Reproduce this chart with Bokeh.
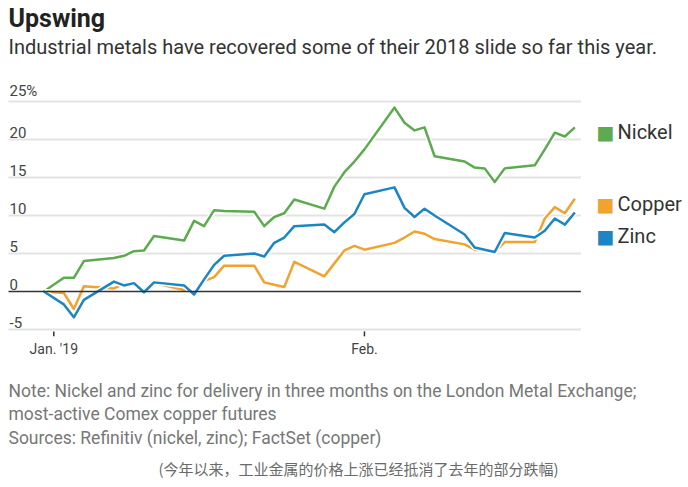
import pandas as pd
from bokeh.plotting import figure
from bokeh.models import Range1d, Label, ColumnDataSource
from bokeh.embed import file_html
from bokeh.resources import INLINE

# ---------------- data ----------------
dates = ["2018-12-31", "2019-01-02", "2019-01-03", "2019-01-04", "2019-01-07", "2019-01-08",
         "2019-01-09", "2019-01-10", "2019-01-11", "2019-01-14", "2019-01-15", "2019-01-16",
         "2019-01-17", "2019-01-18", "2019-01-21", "2019-01-22", "2019-01-23", "2019-01-24",
         "2019-01-25", "2019-01-28", "2019-01-29", "2019-01-30", "2019-01-31", "2019-02-01",
         "2019-02-04", "2019-02-05", "2019-02-06", "2019-02-07", "2019-02-08", "2019-02-11",
         "2019-02-12", "2019-02-13", "2019-02-14", "2019-02-15", "2019-02-18", "2019-02-19",
         "2019-02-20", "2019-02-21", "2019-02-22"]
nickel = [0.0, 1.8, 1.8, 4.0, 4.4, 4.7, 5.3, 5.4, 7.3, 6.7, 9.3, 8.6,
          10.7, 10.6, 10.5, 8.6, 9.8, 10.3, 12.1, 10.9, 13.8, 15.7, 17.1, 18.7,
          24.2, 22.2, 21.2, 21.6, 17.8, 17.1, 16.3, 16.2, 14.4, 16.2, 16.6, 18.7,
          20.9, 20.4, 21.6]
copper = [0.0, -0.2, -2.3, 0.7, 0.4, 1.0, 1.0, 0.1, 1.1, 0.2, 0.0, 1.4,
          1.9, 3.4, 3.4, 1.2, 0.9, 0.6, 3.9, 2.0, 3.7, 5.4, 6.0, 5.5,
          6.4, 7.1, 7.9, 7.6, 6.9, 6.2, 5.5, 5.4, 5.2, 6.5, 6.5, 9.6,
          11.1, 10.3, 12.2]
zinc = [0.0, -1.7, -3.4, -1.1, 1.3, 0.8, 1.1, -0.1, 1.2, 0.8, -0.4, 1.6,
        3.5, 4.7, 5.0, 4.6, 6.4, 7.1, 8.6, 8.8, 7.8, 9.1, 10.2, 12.8,
        13.7, 11.0, 9.8, 10.9, 10.0, 7.5, 5.8, 5.5, 5.2, 7.7, 7.1, 8.0,
        9.6, 8.8, 10.4]

series_names = ["Nickel", "Copper", "Zinc"]
series_colors = ["#5dab4f", "#f2a22e", "#1c86c4"]

y_ticks = [25, 20, 15, 10, 5, 0, -5]
y_tick_labels = ["25%", "20", "15", "10", "5", "0", "-5"]
x_ticks = ["2019-01-01", "2019-02-01"]
x_tick_labels = ["Jan. '19", "Feb."]

title = "Upswing"
subtitle = "Industrial metals have recovered some of their 2018 slide so far this year."
notes = ["Note: Nickel and zinc for delivery in three months on the London Metal Exchange;",
         "most-active Comex copper futures",
         "Sources: Refinitiv (nickel, zinc); FactSet (copper)"]
caption = "(今年以来，工业金属的价格上涨已经抵消了去年的部分跌幅)"

# ---------------- layout (page pixel coordinates) ----------------
W, H = 688, 487
DAY = 86400000.0
t = pd.to_datetime(pd.Series(dates))
t_ms = (t.astype("int64") // 10**6).astype(float)
px_per_day = 10.02
x0 = t_ms.iloc[0] - 43.3 / px_per_day * DAY
x1 = x0 + W / px_per_day * DAY
px_per_pct = 7.6
zero_from_top = 291.0
y1 = zero_from_top / px_per_pct
y0 = y1 - H / px_per_pct

def sy(page_y):
    return H - page_y

p = figure(width=W, height=H, output_backend="svg", toolbar_location=None,
           x_range=Range1d(x0, x1), y_range=Range1d(y0, y1),
           x_axis_location=None, y_axis_location=None,
           min_border=0, outline_line_color=None, background_fill_color="white",
           border_fill_color="white")
p.xgrid.visible = False
p.ygrid.visible = False

grid_start = x0 + 8 / px_per_day * DAY
grid_end = t_ms.iloc[-1] + 0.6 * DAY
FONT = "Roboto"

# gridlines
for yv in y_ticks:
    if yv == 0:
        continue
    p.segment(x0=[grid_start], y0=[yv], x1=[grid_end], y1=[yv], line_color="#e3e3e3", line_width=2)

# series
src = ColumnDataSource(dict(x=t_ms, nickel=nickel, copper=copper, zinc=zinc))
for key, col in zip(["nickel", "copper", "zinc"], series_colors):
    p.line("x", key, source=src, line_color="white", line_width=5.5, line_join="round")
    p.line("x", key, source=src, line_color=col, line_width=2.5, line_join="round")

# zero line
p.segment(x0=[grid_start], y0=[0], x1=[grid_end], y1=[0], line_color="#333333", line_width=1.3)

# y tick labels (above gridlines, left)
for yv, lab in zip(y_ticks, y_tick_labels):
    p.add_layout(Label(x=9, x_units="screen", y=yv, y_units="data", y_offset=2,
                       text=lab, text_font=FONT, text_font_size="15px",
                       text_color="#444444", text_baseline="bottom"))

# x ticks
for d, lab in zip(x_ticks, x_tick_labels):
    xm = pd.Timestamp(d).value // 10**6
    p.segment(x0=[xm], y0=[y_ticks[-1] - 0.25], x1=[xm], y1=[y_ticks[-1] - 0.9],
              line_color="#333333", line_width=1.5)
    p.add_layout(Label(x=xm, y=sy(348), y_units="screen", text=lab, text_font=FONT,
                       text_font_size="14px", text_color="#444444",
                       text_align="center", text_baseline="middle"))

# legend (manual)
leg_y = [131, 203, 235]
for name, col, ly in zip(series_names, series_colors, leg_y):
    p.add_layout(Label(x=596, x_units="screen", y=sy(ly), y_units="screen", text="■",
                       text_font="DejaVu Sans", text_font_size="19px", text_color=col,
                       text_baseline="middle"))
    p.add_layout(Label(x=617, x_units="screen", y=sy(ly), y_units="screen", text=name,
                       text_font=FONT, text_font_size="20px", text_color="#333333",
                       text_baseline="middle"))

# title / subtitle
p.add_layout(Label(x=8, x_units="screen", y=sy(18), y_units="screen", text=title,
                   text_font=FONT, text_font_style="bold", text_font_size="25px",
                   text_color="#222222", text_baseline="middle"))
p.add_layout(Label(x=8, x_units="screen", y=sy(46), y_units="screen", text=subtitle,
                   text_font=FONT, text_font_size="20px", text_color="#333333",
                   text_baseline="middle"))

# notes
for i, n in enumerate(notes):
    p.add_layout(Label(x=8, x_units="screen", y=sy(390 + 23.5 * i), y_units="screen", text=n,
                       text_font=FONT, text_font_size="17.5px", text_color="#777777",
                       text_baseline="middle"))
p.add_layout(Label(x=358, x_units="screen", y=sy(468), y_units="screen", text=caption,
                   text_font="Noto Sans CJK SC", text_font_size="15px", text_color="#6a6a6a",
                   text_align="center", text_baseline="middle"))

open("out.html", "w").write(file_html(p, INLINE))
